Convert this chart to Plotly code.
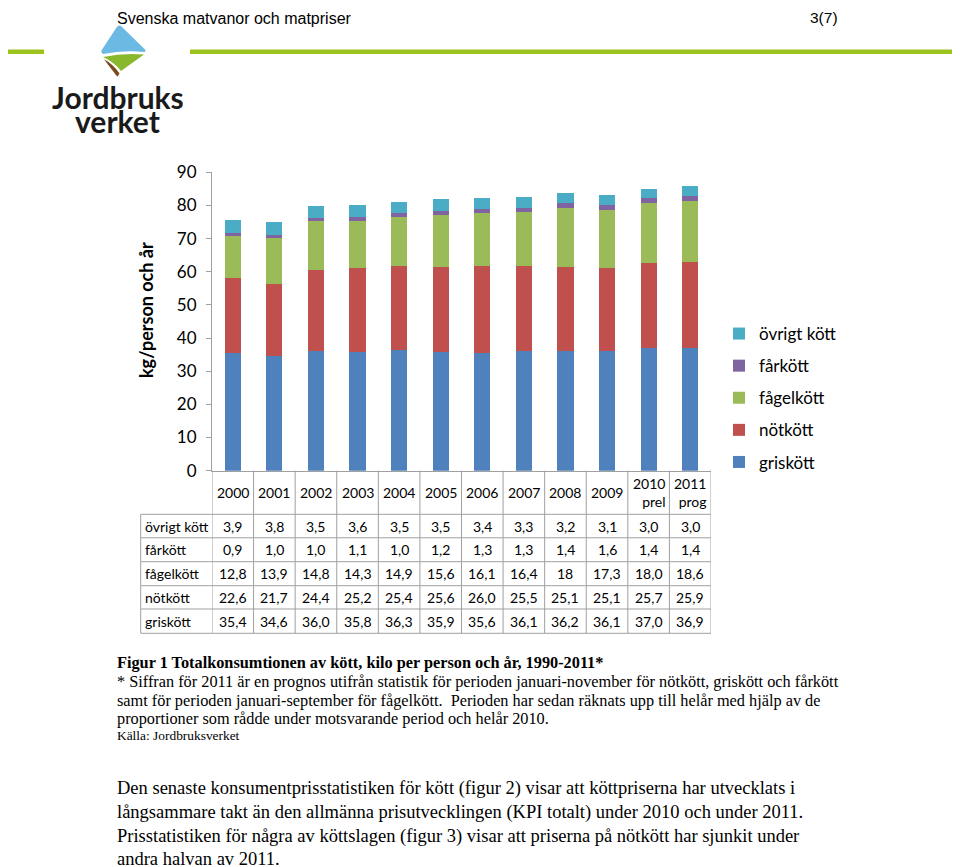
import plotly.graph_objects as go

# ---------------- data ----------------
categories = ["2000", "2001", "2002", "2003", "2004", "2005", "2006", "2007",
              "2008", "2009", "2010 prel", "2011 prog"]
griskott = [35.4, 34.6, 36.0, 35.8, 36.3, 35.9, 35.6, 36.1, 36.2, 36.1, 37.0, 36.9]
notkott = [22.6, 21.7, 24.4, 25.2, 25.4, 25.6, 26.0, 25.5, 25.1, 25.1, 25.7, 25.9]
fagelkott = [12.8, 13.9, 14.8, 14.3, 14.9, 15.6, 16.1, 16.4, 18, 17.3, 18.0, 18.6]
farkott = [0.9, 1.0, 1.0, 1.1, 1.0, 1.2, 1.3, 1.3, 1.4, 1.6, 1.4, 1.4]
ovrigt = [3.9, 3.8, 3.5, 3.6, 3.5, 3.5, 3.4, 3.3, 3.2, 3.1, 3.0, 3.0]

series = [
    ("griskött", griskott, "#4F81BD"),
    ("nötkött", notkott, "#C0504D"),
    ("fågelkött", fagelkott, "#9BBB59"),
    ("fårkött", farkott, "#8064A2"),
    ("övrigt kött", ovrigt, "#4BACC6"),
]
table_order = ["övrigt kött", "fårkött", "fågelkött", "nötkött", "griskött"]
y_ticks = [0, 10, 20, 30, 40, 50, 60, 70, 80, 90]

# ---------------- helpers ----------------
# page body has an 8px margin; the figure is sized to fill the rest of the window
OFF = 8
W, H = 960 - OFF, 867 - OFF
def px(x):
    return (x - OFF) / W
def py(y):
    return 1 - (y - OFF) / H
def fmt(v):
    if isinstance(v, int):
        return str(v)
    return f"{v:.1f}".replace(".", ",")

CAL = "Lato"
SERIF = "Liberation Serif"
GRID = "#A0A0A0"
TFS = 14  # table font size

fig = go.Figure()
for name, vals, col in series:
    fig.add_trace(go.Bar(x=categories, y=vals, name=name, marker_color=col,
                         marker_line_width=0, legendgroup=name,
                         legendrank=table_order.index(name) + 1))

annotations = []
shapes = []

# ---------------- data table ----------------
row_bounds = [514.3, 537.8, 561.7, 585.7, 609.0, 633.3]
header_center = 492.0
data_map = {n: v for n, v, c in series}
for i, cat in enumerate(categories):
    annotations.append(dict(x=i, xref="x", y=py(header_center), yref="paper",
                            text=cat.replace(" ", "<br>"), showarrow=False,
                            align="right", xanchor="center", yanchor="middle",
                            font=dict(family=CAL, size=TFS, color="#000")))
for r, name in enumerate(table_order):
    yc = (row_bounds[r] + row_bounds[r + 1]) / 2
    annotations.append(dict(x=px(143), xref="paper", y=py(yc), yref="paper",
                            text=name, showarrow=False, xanchor="left",
                            yanchor="middle",
                            font=dict(family=CAL, size=TFS, color="#000")))
    for i, cat in enumerate(categories):
        annotations.append(dict(x=i, xref="x", y=py(yc), yref="paper",
                                text=fmt(data_map[name][i]), showarrow=False,
                                xanchor="center", yanchor="middle",
                                font=dict(family=CAL, size=TFS, color="#000")))

for k in range(len(categories) + 1):
    shapes.append(dict(type="line", xref="x", yref="paper", x0=k - 0.5, x1=k - 0.5,
                       y0=py(470.7), y1=py(row_bounds[-1]),
                       line=dict(color=GRID, width=1)))
shapes.append(dict(type="line", xref="paper", yref="paper", x0=px(140.7), x1=px(140.7),
                   y0=py(row_bounds[0]), y1=py(row_bounds[-1]),
                   line=dict(color=GRID, width=1)))
for yb in row_bounds:
    shapes.append(dict(type="line", xref="paper", yref="paper", x0=px(140.7), x1=px(711),
                       y0=py(yb), y1=py(yb), line=dict(color=GRID, width=1)))

# y-axis title
annotations.append(dict(x=px(146), xref="paper", y=py(310), yref="paper",
                        text="<b>kg/person och år</b>", textangle=-90, showarrow=False,
                        xanchor="center", yanchor="middle",
                        font=dict(family=CAL, size=18, color="#000")))

# ---------------- page header & logo ----------------
annotations.append(dict(x=px(115), xref="paper", y=py(18), yref="paper",
                        text="Svenska matvanor och matpriser", showarrow=False,
                        xanchor="left", yanchor="middle",
                        font=dict(family="Liberation Sans", size=16, color="#000")))
annotations.append(dict(x=px(808), xref="paper", y=py(17), yref="paper",
                        text="3(7)", showarrow=False, xanchor="left", yanchor="middle",
                        font=dict(family="Liberation Sans", size=15.5, color="#000")))
# green rule
for x0, x1 in [(0, 44), (190, 970)]:
    shapes.append(dict(type="rect", xref="paper", yref="paper", x0=px(x0), x1=px(x1),
                       y0=py(54), y1=py(49.5), fillcolor="#9CC31E", line_width=0))

def svg(pts, cmds):
    s = ""
    for c, p in zip(cmds, pts):
        s += c + " " + " ".join(f"{px(a):.5f},{py(b):.5f}" for a, b in p) + " "
    return s + "Z"

blue = svg([[(116.5, 27.5)], [(119.5, 23.5), (122.5, 27.5)], [(145, 49.5)],
            [(146.5, 51.5), (144, 52)], [(123, 50), (103, 54)], [(100.5, 52.5), (101.5, 50.5)]],
           ["M", "Q", "L", "Q", "Q", "Q"])
green = svg([[(103, 57)], [(124, 52.5), (144, 54.5)], [(121, 71)], [(114, 62), (103, 57)]],
            ["M", "Q", "L", "Q"])
brown = svg([[(104, 59.3)], [(109, 66), (117.3, 76.7)], [(119.5, 73.5)], [(113, 64), (104, 59.3)]],
            ["M", "Q", "L", "Q"])
shapes.append(dict(type="path", xref="paper", yref="paper", path=blue,
                   fillcolor="#6CB9E3", line_width=0))
shapes.append(dict(type="path", xref="paper", yref="paper", path=green,
                   fillcolor="#8AB82C", line_width=0))
shapes.append(dict(type="path", xref="paper", yref="paper", path=brown,
                   fillcolor="#7A4A1C", line_width=0))
annotations.append(dict(x=px(118), xref="paper", y=py(97), yref="paper",
                        text="Jordbruks", showarrow=False, xanchor="center", yanchor="middle",
                        font=dict(family="Lato", size=30, color="#1A1A1A", weight=700)))
annotations.append(dict(x=px(117), xref="paper", y=py(121), yref="paper",
                        text="verket", showarrow=False, xanchor="center", yanchor="middle",
                        font=dict(family="Lato", size=30, color="#1A1A1A", weight=700)))

# ---------------- caption & body text ----------------
caption = [
    ("<b>Figur 1 Totalkonsumtionen av kött, kilo per person och år, 1990-2011*</b>", 662, 16.3),
    ("* Siffran för 2011 är en prognos utifrån statistik för perioden januari-november för nötkött, griskött och fårkött", 681, 16.3),
    ("samt för perioden januari-september för fågelkött.  Perioden har sedan räknats upp till helår med hjälp av de", 700, 16.3),
    ("proportioner som rådde under motsvarande period och helår 2010.", 718, 16.3),
    ("Källa: Jordbruksverket", 735, 13.4),
    ("Den senaste konsumentprisstatistiken för kött (figur 2) visar att köttpriserna har utvecklats i", 788, 18.5),
    ("långsammare takt än den allmänna prisutvecklingen (KPI totalt) under 2010 och under 2011.", 812, 18.5),
    ("Prisstatistiken för några av köttslagen (figur 3) visar att priserna på nötkött har sjunkit under", 836, 18.5),
    ("andra halvan av 2011.", 859, 18.5),
]
for txt, yy, fs in caption:
    annotations.append(dict(x=px(115), xref="paper", y=py(yy), yref="paper", text=txt,
                            showarrow=False, xanchor="left", yanchor="middle",
                            font=dict(family=SERIF, size=fs, color="#000")))

fig.update_layout(
    width=W, height=H,
    margin=dict(l=0, r=0, t=0, b=0, autoexpand=False),
    paper_bgcolor="white", plot_bgcolor="white",
    barmode="stack", bargap=0.61,
    showlegend=True,
    legend=dict(x=px(719), y=py(316), xanchor="left", yanchor="top",
                traceorder="grouped", tracegroupgap=7,
                font=dict(family=CAL, size=17, color="#000"),
                bgcolor="rgba(0,0,0,0)"),
    xaxis=dict(domain=[px(212), px(711)], range=[-0.5, 11.5], type="category",
               showticklabels=False, showline=True, linecolor=GRID, linewidth=1,
               ticks="", showgrid=False, zeroline=False, automargin=False),
    yaxis=dict(domain=[py(470.7), py(172.3)], range=[0, 90], tickvals=y_ticks,
               showline=True, linecolor=GRID, linewidth=1, ticks="outside",
               ticklen=5, tickcolor=GRID, showgrid=False, zeroline=False,
               ticklabelstandoff=6, automargin=False,
               tickfont=dict(family=CAL, size=17, color="#000")),
    annotations=annotations,
    shapes=shapes,
)

fig.write_html("out.html")
